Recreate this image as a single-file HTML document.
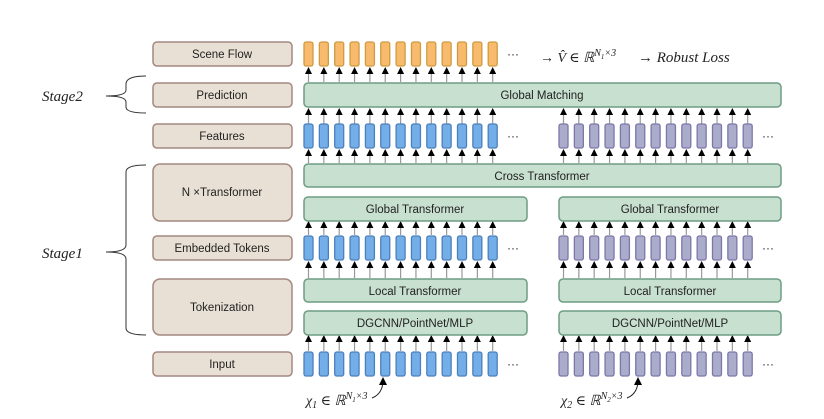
<!DOCTYPE html>
<html><head><meta charset="utf-8"><style>
body{margin:0;background:#fff;}
svg{display:block;}
text{font-family:"Liberation Sans","DejaVu Sans",sans-serif;font-size:11.5px;fill:#222;}
.m{font-family:"Liberation Serif","DejaVu Serif",serif;font-style:italic;font-size:15px;fill:#222;}
</style></head><body>
<svg id="s" width="824" height="419" viewBox="0 0 824 419" xmlns="http://www.w3.org/2000/svg">
<g id="g"></g>
<g fill="#e8e0d4" stroke="#a48880" stroke-width="1.5">
<rect x="153" y="42" width="139" height="24" rx="4"/>
<rect x="153" y="83" width="139" height="24" rx="4"/>
<rect x="153" y="124" width="139" height="24" rx="4"/>
<rect x="153" y="164" width="139" height="57" rx="7"/>
<rect x="153" y="236" width="139" height="24" rx="4"/>
<rect x="153" y="279" width="139" height="56" rx="7"/>
<rect x="153" y="352" width="139" height="24" rx="4"/>
</g>
<g text-anchor="middle">
<text x="222" y="58">Scene Flow</text>
<text x="222" y="99">Prediction</text>
<text x="222" y="140">Features</text>
<text x="222" y="196">N ×Transformer</text>
<text x="222" y="252">Embedded Tokens</text>
<text x="222" y="311">Tokenization</text>
<text x="222" y="368">Input</text>
</g>
<g fill="#c8e0cf" stroke="#6e9c84" stroke-width="1.5">
<rect x="304" y="83" width="477" height="24" rx="4"/>
<rect x="304" y="164" width="477" height="23" rx="4"/>
<rect x="304" y="197" width="223" height="24" rx="4"/>
<rect x="559" y="197" width="222" height="24" rx="4"/>
<rect x="304" y="279" width="223" height="23" rx="4"/>
<rect x="559" y="279" width="222" height="23" rx="4"/>
<rect x="304" y="311" width="223" height="24" rx="4"/>
<rect x="559" y="311" width="222" height="24" rx="4"/>
</g>
<g text-anchor="middle">
<text x="542" y="99">Global Matching</text>
<text x="542" y="180">Cross Transformer</text>
<text x="415" y="213">Global Transformer</text>
<text x="670" y="213">Global Transformer</text>
<text x="415" y="295">Local Transformer</text>
<text x="670" y="295">Local Transformer</text>
<text x="415" y="327">DGCNN/PointNet/MLP</text>
<text x="670" y="327">DGCNN/PointNet/MLP</text>
</g>
<g fill="none" stroke="#333" stroke-width="1">
<path d="M146 76 Q126 76 126 84 L126 90 Q126 96 106 96 Q126 96 126 102 L126 107 Q126 113 146 113"/>
<path d="M146 165 Q126 165 126 172 L126 245 Q126 252 106 252 Q126 252 126 259 L126 328 Q126 335 146 335"/>
</g>
<text class="m" x="42" y="101">Stage2</text>
<text class="m" x="42" y="258">Stage1</text>
<text class="m" x="540" y="62" style="font-size:14px">→ V̂ ∈ ℝ<tspan dy="-6" font-size="10">N</tspan><tspan dy="3" font-size="7">1</tspan><tspan dy="-3" font-size="10">×3</tspan></text>
<text class="m" x="638" y="62" style="font-size:15px">→ Robust Loss</text>
<text class="m" x="306" y="405" style="font-size:14px">χ<tspan dy="3" font-size="10">1</tspan><tspan dy="-3"> ∈ ℝ</tspan><tspan dy="-6" font-size="10">N</tspan><tspan dy="3" font-size="7">1</tspan><tspan dy="-3" font-size="10">×3</tspan></text>
<text class="m" x="561" y="405" style="font-size:14px">χ<tspan dy="3" font-size="10">2</tspan><tspan dy="-3"> ∈ ℝ</tspan><tspan dy="-6" font-size="10">N</tspan><tspan dy="3" font-size="7">2</tspan><tspan dy="-3" font-size="10">×3</tspan></text>
<g fill="none" stroke="#222" stroke-width="1"><path d="M372 398 Q382 394 383 382"/><path d="M627 398 Q637 394 638 382"/></g>
<polygon points="383,377 379,385 387,385" fill="#000"/>
<polygon points="638,377 634,385 642,385" fill="#000"/>
</svg>
<script>
const g=document.getElementById('g');let h='';
const sp=15.35;
function bars(x0,y,hh,fill,st){for(let i=0;i<13;i++){h+=`<rect x="${x0+i*sp}" y="${y}" width="9" height="${hh}" rx="2" fill="${fill}" stroke="${st}" stroke-width="1.3"/>`;}}
function arrows(x0,y1,y2){for(let i=0;i<13;i++){const x=x0+i*sp+4.5;h+=`<line x1="${x}" y1="${y2}" x2="${x}" y2="${y1+5}" stroke="#999" stroke-width="1.2"/><polygon points="${x},${y1} ${x-3.5},${y1+7} ${x+3.5},${y1+7}" fill="#000"/>`;}}
function dots(x,y){h+=`<text x="${x}" y="${y}" style="font-size:12px">···</text>`;}
const B=['#74aee8','#4a80bb'],P=['#ababcc','#7a78a8'],O=['#f8ba6c','#cf9b40'];
bars(304,42,24,...O);dots(507,58);
arrows(304,67,82);
arrows(304,108,124);arrows(559,108,124);
bars(304,124,24,...B);bars(559,124,24,...P);dots(507,140);dots(762,140);
arrows(304,149,163);arrows(559,149,163);
arrows(304,221,235);arrows(559,221,235);
bars(304,236,24,...B);bars(559,236,24,...P);dots(507,252);dots(762,252);
arrows(304,261,278);arrows(559,261,278);
arrows(304,335,351);arrows(559,335,351);
bars(304,352,24,...B);bars(559,352,24,...P);dots(507,368);dots(762,368);
g.innerHTML=h;
</script>
</body></html>
